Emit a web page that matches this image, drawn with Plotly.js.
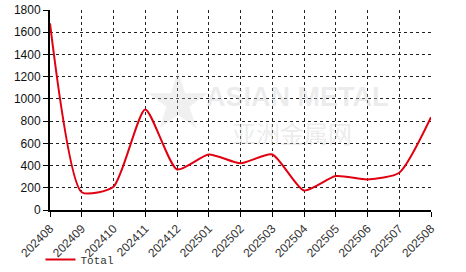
<!DOCTYPE html>
<html>
<head>
<meta charset="utf-8">
<script src="https://cdn.plot.ly/plotly-3.0.1.min.js"></script>
<style>html,body{margin:0;padding:0;background:#fff;}#chart{width:466px;height:272px;}</style>
</head>
<body>
<div id="chart"></div>
<script>
const categories = ["202408","202409","202410","202411","202412","202501","202502","202503","202504","202505","202506","202507","202508"];
const totalValues = [1680, 160, 210, 905, 365, 500, 420, 500, 175, 305, 275, 335, 835];
const seriesName = "Total";
const yTicks = [0, 200, 400, 600, 800, 1000, 1200, 1400, 1600, 1800];

const trace = {
  x: categories,
  y: totalValues,
  type: "scatter",
  mode: "lines",
  name: seriesName,
  line: {color: "#e00010", width: 2, shape: "spline", smoothing: 0.6},
  hoverinfo: "skip"
};

const layout = {
  width: 466, height: 272,
  margin: {l: 50, r: 35, t: 10, b: 62, pad: 0, autoexpand: false},
  paper_bgcolor: "#fff", plot_bgcolor: "#fff",
  showlegend: true,
  legend: {x: -0.025, y: -0.175, xanchor: "left", yanchor: "top", orientation: "h",
           font: {family: "Liberation Mono, Courier New, monospace", size: 11, color: "#333"},
           bgcolor: "rgba(0,0,0,0)", itemwidth: 30, tracegroupgap: 0},
  xaxis: {
    type: "category", range: [0, categories.length - 1],
    showgrid: true, gridcolor: "#222", griddash: "dot", gridwidth: 1,
    showline: true, linecolor: "#000", linewidth: 2,
    ticks: "outside", ticklen: 5, tickcolor: "#000", tickwidth: 1,
    tickangle: -45, tickfont: {family: "Liberation Sans, Arial, sans-serif", size: 12, color: "#333"},
    zeroline: false, fixedrange: true, automargin: false
  },
  yaxis: {
    range: [0, 1800], tickvals: yTicks, ticktext: yTicks.map(String),
    showgrid: true, gridcolor: "#222", griddash: "dot", gridwidth: 1,
    showline: true, linecolor: "#000", linewidth: 2,
    ticks: "outside", ticklen: 5, tickcolor: "#000", tickwidth: 1,
    tickfont: {family: "Liberation Sans, Arial, sans-serif", size: 12, color: "#111"},
    zeroline: false, fixedrange: true, automargin: false
  },
  annotations: [
    {xref: "paper", yref: "paper", x: 0.24, y: 0.56, text: "★", showarrow: false,
     font: {size: 78, color: "rgba(205,205,205,0.3)"}},
    {xref: "paper", yref: "paper", x: 0.65, y: 0.565, text: "<b>ASIAN METAL</b>", showarrow: false,
     font: {family: "Liberation Sans, Arial, sans-serif", size: 27, color: "rgba(205,205,205,0.4)"}},
    {xref: "paper", yref: "paper", x: 0.635, y: 0.39, text: "亚洲金属网", showarrow: false,
     font: {family: "Noto Sans CJK SC", size: 24, color: "rgba(205,205,205,0.4)"}}
  ]
};

Plotly.newPlot("chart", [trace], layout, {displayModeBar: false, staticPlot: true});
</script>
</body>
</html>
